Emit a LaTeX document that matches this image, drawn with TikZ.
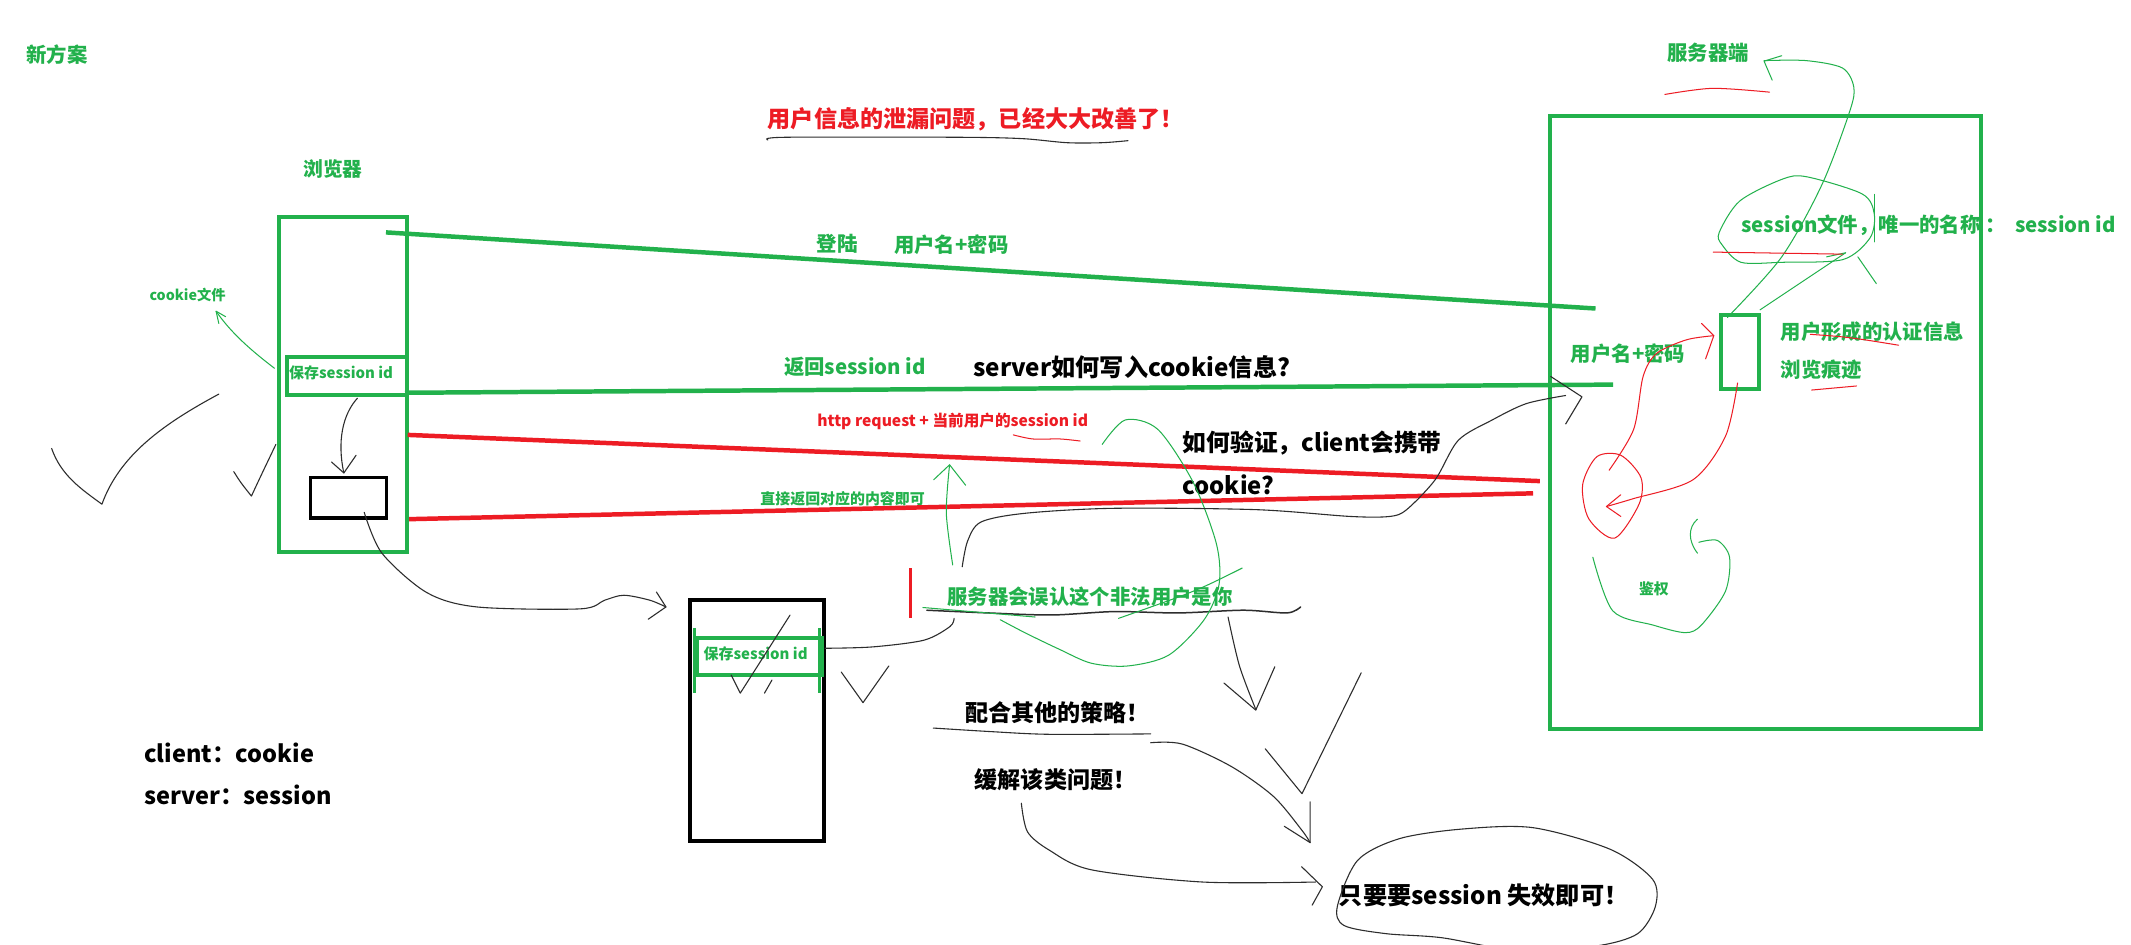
\documentclass[tikz,border=0pt]{standalone}
\usepackage{fontspec}
\setmainfont{Noto Sans CJK SC}
\definecolor{grn}{RGB}{34,177,76}
\definecolor{rd}{RGB}{237,28,36}
\definecolor{pencil}{RGB}{45,45,45}
\newcommand{\fsz}[1]{\fontsize{#1}{#1}\selectfont}
\begin{document}
\begin{tikzpicture}[x=1pt,y=-1pt,
  lbl/.style={inner sep=0pt},
  g/.style={lbl,text=grn},
  r/.style={lbl,text=rd},
  k/.style={lbl,text=black},
  gbox/.style={draw=grn,line width=3pt,inner sep=0pt,anchor=north west},
  kbox/.style={draw=black,line width=3pt,inner sep=0pt,anchor=north west},
  gline/.style={draw=grn,line width=3.3pt},
  rline/.style={draw=rd,line width=3.3pt},
  pen/.style={draw=pencil,line width=0.8pt,line cap=round,line join=round},
  gpen/.style={draw=grn,line width=0.75pt,line cap=round,line join=round},
  rpen/.style={draw=rd,line width=0.75pt,line cap=round,line join=round},
]
\path[use as bounding box] (0,0) rectangle (1568,695);
\clip (0,0) rectangle (1568,695);
\fill[white] (0,0) rectangle (1568,695);

% ---------- boxes ----------
\node[gbox,minimum width=94pt,minimum height=247pt] (browser) at (204,158) {};
\node[gbox,minimum width=88pt,minimum height=28pt] (save1) at (210,261) {};
\node[kbox,line width=2.6pt,minimum width=56pt,minimum height=30pt] (page) at (227,350) {};
\node[kbox,minimum width=99pt,minimum height=177pt] (box2) at (506,440) {};
\node[gbox,minimum width=92pt,minimum height=27pt] (save2) at (511,468) {};
\node[gbox,minimum width=317pt,minimum height=451pt] (server) at (1139,84) {};
\node[gbox,minimum width=28pt,minimum height=55pt] (sess) at (1265,230) {};
\draw[grn,line width=2pt] (511,462) -- (511,510) (603,462) -- (603,510);

% ---------- texts ----------
\node[g,font=\bfseries\fsz{15}] (tnew) at (42,40) {新方案};
\node[g,font=\bfseries\fsz{14.5}] (tbrowser) at (245,124) {浏览器};
\node[r,font=\bfseries\fsz{17}] (ttitle) at (718,88) {用户信息的泄漏问题，已经大大改善了！};
\node[g,font=\bfseries\fsz{15}] (tserver) at (1257,39) {服务器端};
\node[g,font=\bfseries\fsz{10.5}] (tcookie) at (138,217) {cookie文件};
\node[g,font=\bfseries\fsz{11}] (tsave1) at (251,274) {保存session id};
\node[g,font=\bfseries\fsz{15}] (tlogin) at (616,179) {登陆};
\node[g,font=\bfseries\fsz{15}] (tup1) at (700,180) {用户名+密码};
\node[g,font=\bfseries\fsz{15}] (tret) at (629,270) {返回session id};
\node[k,font=\bfseries\fsz{17.8},anchor=west] (thow) at (716,270) {server如何写入cookie信息?};
\node[r,font=\bfseries\fsz{11.5}] (treq) at (701,310) {http request + 当前用户的session id};
\node[k,font=\bfseries\fsz{17.5},anchor=west] (tv1) at (870,326) {如何验证，client会携带};
\node[k,font=\bfseries\fsz{17.5},anchor=west] (tv2) at (870,357) {cookie?};
\node[g,font=\bfseries\fsz{11}] (tdirect) at (620,367) {直接返回对应的内容即可};
\node[g,font=\bfseries\fsz{15}] (tmis) at (802,439) {服务器会误认这个非法用户是你};
\node[g,font=\bfseries\fsz{11}] (tsave2) at (556,481) {保存session id};
\node[k,font=\bfseries\fsz{17},anchor=west] (tcomb) at (710,524) {配合其他的策略！};
\node[k,font=\bfseries\fsz{17},anchor=west] (tease) at (717,574) {缓解该类问题！};
\node[k,font=\bfseries\fsz{17.8},anchor=west] (tonly) at (985,659) {只要要session 失效即可！};
\node[k,font=\bfseries\fsz{17.3},anchor=west] (tclient) at (106,554) {client：cookie};
\node[k,font=\bfseries\fsz{17.3},anchor=west] (tsrv) at (106,585) {server：session};
\node[g,font=\bfseries\fsz{15},anchor=west] (tsfile) at (1281,166) {session文件，唯一的名称 ：\ \ session id};
\node[g,font=\bfseries\fsz{15}] (tup2) at (1198,260) {用户名+密码};
\node[g,font=\bfseries\fsz{15},anchor=west] (tauth) at (1310,244) {用户形成的认证信息};
\node[g,font=\bfseries\fsz{15},anchor=west] (ttrace) at (1310,272) {浏览痕迹};
\node[g,font=\bfseries\fsz{11}] (tjq) at (1217,433) {鉴权};

% ---------- main thick lines ----------
\coordinate (l1a) at (284,171); \coordinate (l1b) at (1174,227);
\coordinate (l2a) at (298,289); \coordinate (l2b) at (1187,283);
\coordinate (r1a) at (300,320); \coordinate (r1b) at (1133,354);
\coordinate (r2a) at (301,382); \coordinate (r2b) at (1128,363);
\draw[gline] (l1a) -- (l1b);
\draw[gline] (l2a) -- (l2b);
\draw[rline] (r1a) -- (r1b);
\draw[rline] (r2a) -- (r2b);
\draw[rd,line width=2.5pt] (670,418) -- (670,455);

% ---------- pencil strokes (left) ----------
\draw[pen] plot[smooth] coordinates {(565,103) (578,101) (705,101) (752,102) (785,105) (811,105) (830,103.5)};
\draw[gpen] (202,271) .. controls (185,258) and (170,245) .. (159,229);
\draw[gpen] (166,233) -- (159,229) -- (161,238);
\draw[pen] (263,293) .. controls (252,305) and (248,325) .. (253,348);
\draw[pen] (244,340) -- (253,348) -- (262,335);
\draw[pen] (38,330) .. controls (45,350) and (60,360) .. (75,371) .. controls (88,335) and (120,312) .. (161,290);
\draw[pen] (172,347) .. controls (177,355) .. (185,365) .. controls (192,350) .. (203,327);
\draw[pen] plot[smooth] coordinates {(268,377) (281,407) (314,436) (351,446.6) (427,448) (445,441.6) (459,438) (478,441.6) (490,446.6)};
\draw[pen] (483,435.6) -- (490,446.6) -- (477,455.6);
\draw[pen] (538,496.7) -- (544.7,510) -- (581.3,452.6);
\draw[pen] (562.5,510) -- (568,500.4);
\draw[pen] (619,494.5) -- (635,517) -- (654,490);
\draw[pen] plot[smooth] coordinates {(607,477) (642,476) (680,471) (699,461) (702,455)};
\draw[pen,line width=1.1pt] plot[smooth] coordinates {(682,449) (727,451) (774,452.5) (820,450) (867,451) (915,449) (947,451) (957,446.6)};

% ---------- green loops in middle ----------
\draw[gpen] plot[smooth] coordinates {(701,415.7) (696.3,377.6) (698.7,342)};
\draw[gpen] (687,353) -- (698.7,342) -- (710.5,357);
\draw[gpen] plot[smooth] coordinates {(811,327) (828,309) (852,316) (878,355) (895,400) (897,430) (886,456) (860,482) (830,490) (803,488) (780,478) (755,466) (736,456)};
\draw[gpen] (914,418) .. controls (880,435) .. (823,455);
\draw[gpen] (679,447) -- (761.6,454);

% ---------- black connectors in middle ----------
\draw[pen] plot[smooth] coordinates {(708,417) (712,398) (722,384) (755,377.6) (820,374) (924,375) (993.5,380) (1022.5,380) (1035,375) (1056,353) (1073,324) (1098,309) (1123,297) (1152,291)};
\draw[pen] (1141,277) -- (1164,292) -- (1152,312);
\draw[pen] plot[smooth] coordinates {(903.6,454) (912,490) (924,522)};
\draw[pen] (900.6,502.6) -- (924,522.5) -- (938,490.6);
\draw[pen] (931,551) -- (958,584) -- (1001.6,495);
\draw[pen] plot[smooth] coordinates {(686.7,535.7) (730.5,538.4) (772,540.3) (846.7,540)};
\draw[pen] plot[smooth] coordinates {(846.7,546.5) (870,547.5) (906,564) (937,586) (958,611) (964,620)};
\draw[pen] (945,608) -- (964,620) -- (964,590);
\draw[pen] plot[smooth] coordinates {(751.5,591) (756,612) (772,625.5) (803,640) (885,649) (968,649)};
\draw[pen] (957.7,637.7) -- (973,652.5) -- (965.5,666);
\draw[pen] plot[smooth cycle] coordinates {(984,667) (999,633) (1030,617) (1076,610) (1128,609) (1185,625) (1216,647) (1218,667) (1205,687) (1175,696) (1120,700) (1061,690) (1020,687) (989,681)};
\draw[rpen] plot[smooth] coordinates {(745.6,320) (760,323) (780,323) (794.7,324.5)};

% ---------- server side strokes ----------
\draw[rpen] plot[smooth] coordinates {(1225,69.5) (1260,65) (1302,67.8)};
\draw[gpen] plot[smooth] coordinates {(1271,233.6) (1311,189) (1340.7,135.6) (1361,82) (1364,64) (1355.6,50) (1329,44.6) (1298,44.6)};
\draw[gpen] (1311,41) -- (1298,45) -- (1304,59);
\draw[gpen] plot[smooth cycle] coordinates {(1265,171) (1280,148) (1311,132) (1329,130) (1370,142.6) (1379,157) (1376,175) (1356,191) (1311,193) (1281,193) (1267,180)};
\draw[gpen] (1379,143) -- (1379,178);
\draw[gpen] (1367,189) -- (1380.6,208.7);
\draw[gpen] (1295,228) -- (1358,186);
\draw[gpen] (1344,189) -- (1358,186);
\draw[rpen] (1260.6,185.5) -- (1355.6,187);
\draw[rpen] plot[smooth] coordinates {(1184,346) (1202,316) (1209,277) (1219,260) (1241,250) (1261,247)};
\draw[rpen] (1252,238) -- (1261,247) -- (1255,264);
\draw[rpen] plot[smooth cycle] coordinates {(1192.6,335) (1207.4,351.4) (1206,371) (1188,396) (1169,381.7) (1164.5,356.7) (1175,336)};
\draw[rpen] plot[smooth] coordinates {(1278.5,281.8) (1269.6,321) (1245.7,353) (1201.5,367) (1182,372.7)};
\draw[rpen] (1192.6,364) -- (1182,372.7) -- (1192.6,380);
\draw[rpen] (1332,246) .. controls (1360,248) .. (1397,254);
\draw[rpen] (1333,287) .. controls (1350,285) .. (1366,284);
\draw[gpen] plot[smooth] coordinates {(1172,410) (1186.7,449.5) (1216.6,460) (1240,465.5) (1251.8,460) (1269.6,435) (1272.6,410) (1263.7,397.7) (1250,399)};
\draw[gpen] (1249,382) .. controls (1242,388) and (1242,398) .. (1249,407);
\end{tikzpicture}
\end{document}
